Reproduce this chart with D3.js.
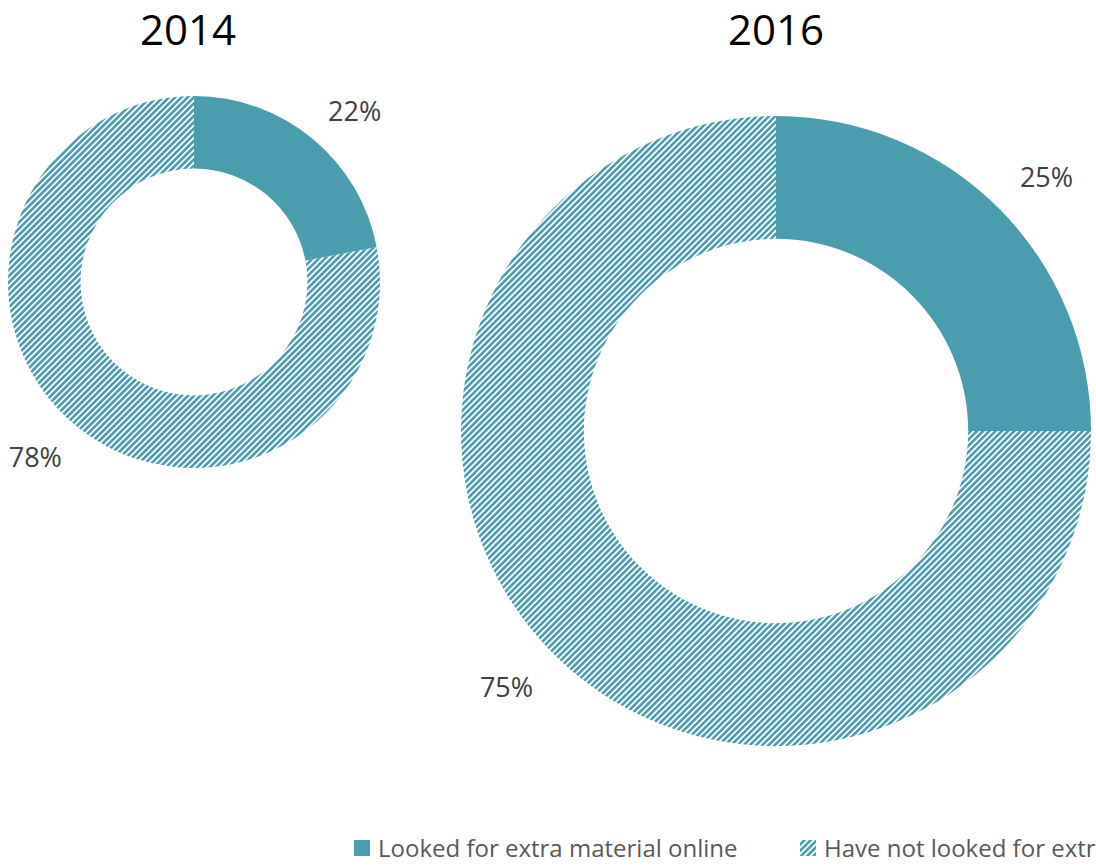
<!DOCTYPE html>
<html>
<head>
<meta charset="utf-8">
<script src="https://cdn.jsdelivr.net/npm/d3@7"></script>
<style>
  body { margin: 0; background: #fff; }
  svg { display: block; }
</style>
</head>
<body>
<div id="chart"></div>
<script>
// data
const years = ["2014", "2016"];
const categories = ["Looked for extra material online", "Have not looked for extr"];
const lookedValues = [22, 25];
const notLookedValues = [78, 75];

const width = 1096, height = 866;
const teal = "#4a9caf";

// layout of each donut (centre + outer radius), label nudges per slice
const layout = [
    {cx: 194, cy: 282, r: 186, titleX: 188, nudge: [[9, 13], [-7, -8]]},
    {cx: 776, cy: 431, r: 315, titleX: 776, nudge: [[11, 6], [-10, -3]]}
];

const svg = d3.select("#chart").append("svg")
    .attr("width", width)
    .attr("height", height);

// hatch pattern for the "not looked" share
const defs = svg.append("defs");
const hatch = defs.append("pattern")
    .attr("id", "hatch")
    .attr("patternUnits", "userSpaceOnUse")
    .attr("width", 4.4)
    .attr("height", 4.4)
    .attr("patternTransform", "rotate(45)");
hatch.append("rect")
    .attr("width", 4.4).attr("height", 4.4)
    .attr("fill", "#fff");
hatch.append("rect")
    .attr("width", 2.6).attr("height", 4.4)
    .attr("fill", teal);

const fills = [teal, "url(#hatch)"];

const pie = d3.pie().sort(null).value(d => d);

years.forEach((year, i) => {
    const L = layout[i];
    const data = pie([lookedValues[i], notLookedValues[i]]);
    const arc = d3.arc().innerRadius(L.r * 0.61).outerRadius(L.r);
    const labelArc = d3.arc().innerRadius(L.r + 52).outerRadius(L.r + 52);

    const g = svg.append("g")
        .attr("transform", `translate(${L.cx},${L.cy})`);

    g.selectAll("path")
        .data(data)
        .enter().append("path")
        .attr("d", arc)
        .attr("fill", (d, j) => fills[j]);

    g.selectAll(".lbl")
        .data(data)
        .enter().append("text")
        .attr("class", "lbl")
        .attr("transform", (d, j) => {
            const c = labelArc.centroid(d);
            return `translate(${c[0] + L.nudge[j][0]},${c[1] + L.nudge[j][1]})`;
        })
        .attr("text-anchor", "middle")
        .attr("dy", "0.35em")
        .attr("font-family", "Open Sans, sans-serif")
        .attr("font-size", "27px")
        .attr("fill", "#404040")
        .text(d => d.value + "%");

    svg.append("text")
        .attr("x", L.titleX)
        .attr("y", 45)
        .attr("text-anchor", "middle")
        .attr("font-family", "Open Sans, sans-serif")
        .attr("font-size", "42px")
        .attr("fill", "#000")
        .text(year);
});

// legend
const legendX = [354, 800];
const legend = svg.append("g");
categories.forEach((c, j) => {
    legend.append("rect")
        .attr("x", legendX[j])
        .attr("y", 840)
        .attr("width", 16)
        .attr("height", 16)
        .attr("fill", fills[j]);
    legend.append("text")
        .attr("x", legendX[j] + 24)
        .attr("y", 857)
        .attr("font-family", "Open Sans, sans-serif")
        .attr("font-size", "24px")
        .attr("fill", "#595959")
        .text(c);
});
</script>
</body>
</html>
